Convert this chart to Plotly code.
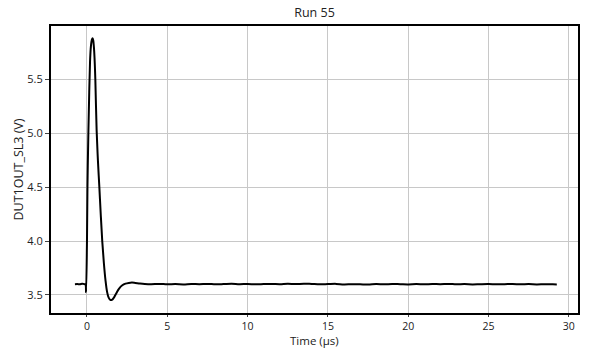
import plotly.graph_objects as go

# Pulse region (time in µs, voltage in V)
t_pulse = [-0.75, -0.6, -0.45, -0.3, -0.15, -0.09, -0.06, 0.0, 0.03, 0.09, 0.14, 0.19, 0.23, 0.27,
           0.31, 0.35, 0.39, 0.43, 0.47, 0.52, 0.6, 0.68, 0.77, 0.86, 0.95, 1.05, 1.15, 1.25,
           1.35, 1.45, 1.55, 1.65, 1.8, 2.0, 2.2, 2.4, 2.6, 2.8, 3.0, 3.3]
v_pulse = [3.600, 3.601, 3.600, 3.604, 3.601, 3.596, 3.525, 4.00, 4.50, 5.03, 5.38, 5.66, 5.78, 5.84,
           5.87, 5.88, 5.86, 5.80, 5.70, 5.50, 5.03, 4.75, 4.50, 4.24, 4.00, 3.80, 3.64, 3.53,
           3.475, 3.455, 3.455, 3.47, 3.51, 3.56, 3.59, 3.605, 3.612, 3.615, 3.612, 3.606]

# Flat settled region
t_flat = [3.6, 4.0, 4.5, 5.0, 5.5, 6.0, 6.5, 7.0, 7.5, 8.0, 8.5, 9.0, 9.5, 10.0, 10.5, 11.0,
          11.5, 12.0, 12.5, 13.0, 13.5, 14.0, 14.5, 15.0, 15.5, 16.0, 16.5, 17.0, 17.5, 18.0,
          18.5, 19.0, 19.5, 20.0, 20.5, 21.0, 21.5, 22.0, 22.5, 23.0, 23.5, 24.0, 24.5, 25.0,
          25.5, 26.0, 26.5, 27.0, 27.5, 28.0, 28.5, 29.0, 29.25]
v_flat = [3.602, 3.600, 3.603, 3.599, 3.601, 3.598, 3.602, 3.600, 3.603, 3.599, 3.601, 3.604, 3.600,
          3.602, 3.599, 3.601, 3.603, 3.600, 3.604, 3.601, 3.605, 3.602, 3.599, 3.601, 3.603,
          3.598, 3.600, 3.599, 3.597, 3.601, 3.599, 3.602, 3.600, 3.598, 3.601, 3.599, 3.602,
          3.600, 3.603, 3.599, 3.601, 3.598, 3.600, 3.601, 3.599, 3.600, 3.602, 3.599, 3.601,
          3.598, 3.600, 3.599, 3.598]

x_ticks = [0, 5, 10, 15, 20, 25, 30]
y_ticks = [3.5, 4.0, 4.5, 5.0, 5.5]

t = t_pulse + t_flat
v = v_pulse + v_flat

font_family = "Open Sans, Noto Sans, sans-serif"
W, H = 589, 349
L, R, T, B = 51, 11, 26, 36

fig = go.Figure()
fig.add_trace(go.Scatter(x=t, y=v, mode="lines", line=dict(color="black", width=2),
                         line_shape="spline", showlegend=False))

fig.update_layout(
    width=W, height=H,
    margin=dict(l=L, r=R, t=T, b=B, autoexpand=False),
    plot_bgcolor="white", paper_bgcolor="white",
    font=dict(family=font_family, color="#222", size=11),
    title=dict(text="Run 55", x=(L + (W - L - R) / 2) / W, xanchor="center",
               y=1 - 13 / H, yanchor="middle",
               font=dict(size=12.5, family=font_family, color="#222")),
    annotations=[
        dict(text="Time (µs)", xref="paper", yref="paper", x=0.5, y=-(348.5 - (H - B)) / (H - T - B),
             xanchor="center", yanchor="bottom", showarrow=False, font=dict(size=11.5),
             borderpad=0),
        dict(text="DUT1OUT_SL3 (V)", xref="paper", yref="paper", x=-(51 - 18) / (W - L - R),
             y=0.5, xanchor="center", yanchor="middle", textangle=-90, showarrow=False,
             font=dict(size=12.5)),
    ],
)
fig.update_xaxes(
    range=[-2.24, 30.57], tickvals=x_ticks, ticktext=[str(x) for x in x_ticks],
    showgrid=True, gridcolor="#c8c8c8", gridwidth=1, zeroline=False,
    showline=True, linecolor="black", linewidth=2, mirror=True,
    ticks="outside", ticklen=2, tickcolor="#444", automargin=False,
    tickfont=dict(size=10.5),
)
fig.update_yaxes(
    range=[3.333, 5.994], tickvals=y_ticks, ticktext=[f"{y:.1f}" for y in y_ticks],
    showgrid=True, gridcolor="#c8c8c8", gridwidth=1, zeroline=False,
    showline=True, linecolor="black", linewidth=2, mirror=True,
    ticks="outside", ticklen=4, tickcolor="#444", automargin=False,
)

fig.write_html("out.html")
